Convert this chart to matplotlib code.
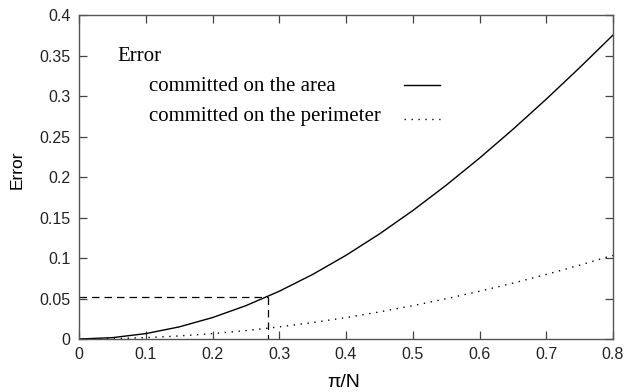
import numpy as np
import matplotlib
matplotlib.use('Agg')
import matplotlib.pyplot as plt
from matplotlib.ticker import FormatStrFormatter

# pi/N values and the errors
step = [0.0, 0.05, 0.1, 0.15, 0.2, 0.25, 0.3, 0.35, 0.4,
        0.45, 0.5, 0.55, 0.6, 0.65, 0.7, 0.75, 0.8]
err_area = [0.0, 0.00167, 0.00665, 0.01493, 0.02645, 0.04115, 0.05893, 0.07969, 0.10331,
            0.12964, 0.15853, 0.18981, 0.22330, 0.25880, 0.29611, 0.33500, 0.37526]
err_perim = [0.0, 0.00042, 0.00167, 0.00375, 0.00665, 0.01038, 0.01493, 0.02029, 0.02645,
             0.03341, 0.04115, 0.04966, 0.05893, 0.06894, 0.07969, 0.09115, 0.10331]

mark_x = 0.2835
mark_y = 0.0522

xticks = [0, 0.1, 0.2, 0.3, 0.4, 0.5, 0.6, 0.7, 0.8]
yticks = [0, 0.05, 0.1, 0.15, 0.2, 0.25, 0.3, 0.35, 0.4]

plt.rcParams['font.family'] = ['Liberation Sans', 'DejaVu Sans']

fig = plt.figure(figsize=(6.25, 3.92), dpi=100)
ax = fig.add_axes([0.1264, 0.1352, 0.9808 - 0.1264, 0.9617 - 0.1352])

ax.plot(step, err_area, color='black', lw=1.0)
ax.plot(step, err_perim, color='black', lw=1.0, linestyle=(0, (1, 4)))
ax.plot([0, mark_x], [mark_y, mark_y], color='black', lw=0.9, linestyle=(0, (6, 4)))
ax.plot([mark_x, mark_x], [mark_y, 0], color='black', lw=0.9, linestyle=(0, (6, 4)))

ax.set_xlim(0, 0.8)
ax.set_ylim(0, 0.4)
ax.set_xticks(xticks)
ax.set_yticks(yticks)
ax.xaxis.set_major_formatter(FormatStrFormatter('%g'))
ax.yaxis.set_major_formatter(FormatStrFormatter('%g'))
ax.tick_params(direction='in', length=6, width=0.9, top=True, right=True,
               labelsize=11.5, colors='#444444', labelcolor='#222222', pad=6)
for sp in ax.spines.values():
    sp.set_color('#555555')
    sp.set_linewidth(1.0)

ax.set_xlabel('π/N', fontsize=14)
ax.xaxis.set_label_coords(0.495, -0.108)
ax.set_ylabel('Error', fontsize=12.5)
ax.yaxis.set_label_coords(-0.101, 0.523)

# gnuplot style key
serif = ['Liberation Serif', 'DejaVu Serif']
ax.text(0.071, 0.872, 'Error', transform=ax.transAxes, fontsize=15,
        family=serif, va='center', ha='left')
ax.text(0.131, 0.778, 'committed on the area', transform=ax.transAxes,
        fontsize=15, family=serif, va='center', ha='left')
ax.text(0.131, 0.688, 'committed on the perimeter', transform=ax.transAxes,
        fontsize=15, family=serif, va='center', ha='left')
ax.plot([0.609, 0.676], [0.784, 0.784], transform=ax.transAxes,
        color='black', lw=1.0)
ax.plot([0.609, 0.676], [0.678, 0.678], transform=ax.transAxes,
        color='black', lw=1.0, linestyle=(0, (1, 4)))

fig.savefig('out.png', dpi=100)
